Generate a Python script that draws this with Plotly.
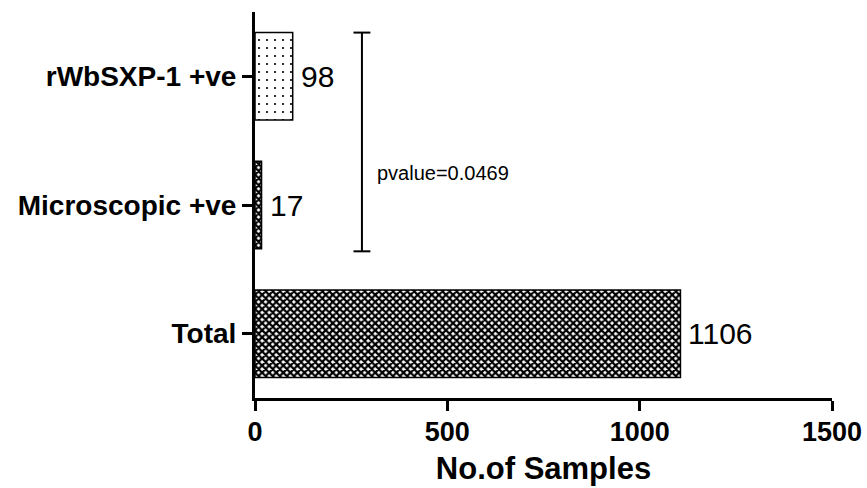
import plotly.graph_objects as go

categories = ["Total", "Microscopic +ve", "rWbSXP-1 +ve"]
values = [1106, 17, 98]
x_ticks = [0, 500, 1000, 1500]
pvalue_text = "pvalue=0.0469"
bracket_x = 278  # data units
bracket_top_cat = "rWbSXP-1 +ve"
bracket_bottom_cat = "Microscopic +ve"

FONT = "Arial, Liberation Sans, Helvetica, sans-serif"

fig = go.Figure()
fig.add_trace(go.Bar(
    y=categories,
    x=values,
    orientation="h",
    marker=dict(
        color="white",
        line=dict(color="black", width=1.5),
        pattern=dict(
            shape=["x", "x", "."],
            size=[5, 5, 8],
            solidity=[0.7, 0.7, 0.06],
            fgcolor="black",
            bgcolor="white",
            fillmode="replace",
        ),
    ),
    width=0.68,
    hoverinfo="skip",
    showlegend=False,
))

for c, v in zip(categories, values):
    fig.add_annotation(
        x=v, y=c, text=str(v), showarrow=False,
        xanchor="left", yanchor="middle", xshift=6,
        font=dict(family=FONT, size=30, color="black"),
    )

# significance bracket
top_y = categories.index(bracket_top_cat) + 0.34
bot_y = categories.index(bracket_bottom_cat) - 0.36
cap = 22
fig.add_shape(type="line", x0=bracket_x, x1=bracket_x, y0=bot_y, y1=top_y,
              xref="x", yref="y", line=dict(color="black", width=2))
for yy in (top_y, bot_y):
    fig.add_shape(type="line", x0=bracket_x - cap, x1=bracket_x + cap, y0=yy, y1=yy,
                  xref="x", yref="y", line=dict(color="black", width=2))
fig.add_annotation(
    x=bracket_x + 34, y=(top_y + bot_y) / 2 - 0.24, text=pvalue_text, showarrow=False,
    xanchor="left", yanchor="middle",
    font=dict(family=FONT, size=20, color="black"),
)

fig.update_layout(
    width=867, height=488,
    margin=dict(l=255, r=35, t=12, b=90, autoexpand=False),
    plot_bgcolor="white", paper_bgcolor="white",
    font=dict(family=FONT, color="black"),
    xaxis=dict(
        range=[0, 1500], tickvals=x_ticks, ticktext=[str(t) for t in x_ticks],
        automargin=False,
        showgrid=False, zeroline=False,
        showline=True, linecolor="black", linewidth=3,
        ticks="outside", ticklen=10, tickwidth=3, tickcolor="black",
        tickfont=dict(family=FONT, size=27, color="black", weight="bold"),
        ticklabelstandoff=-2,
        title=dict(text="<b>No.of Samples</b>", font=dict(family=FONT, size=31, color="black"),
                   standoff=11),
    ),
    yaxis=dict(
        type="category", categoryorder="array", categoryarray=categories,
        range=[-0.5, 2.5],
        automargin=False,
        showgrid=False, zeroline=False,
        showline=True, linecolor="black", linewidth=3,
        ticks="outside", ticklen=10, tickwidth=3, tickcolor="black",
        tickfont=dict(family=FONT, size=28, color="black", weight="bold"),
    ),
)

fig.write_html(
    "out.html",
    config={"displayModeBar": False, "staticPlot": True},
    post_script="document.body.style.margin='0';document.body.style.overflow='hidden';",
)
